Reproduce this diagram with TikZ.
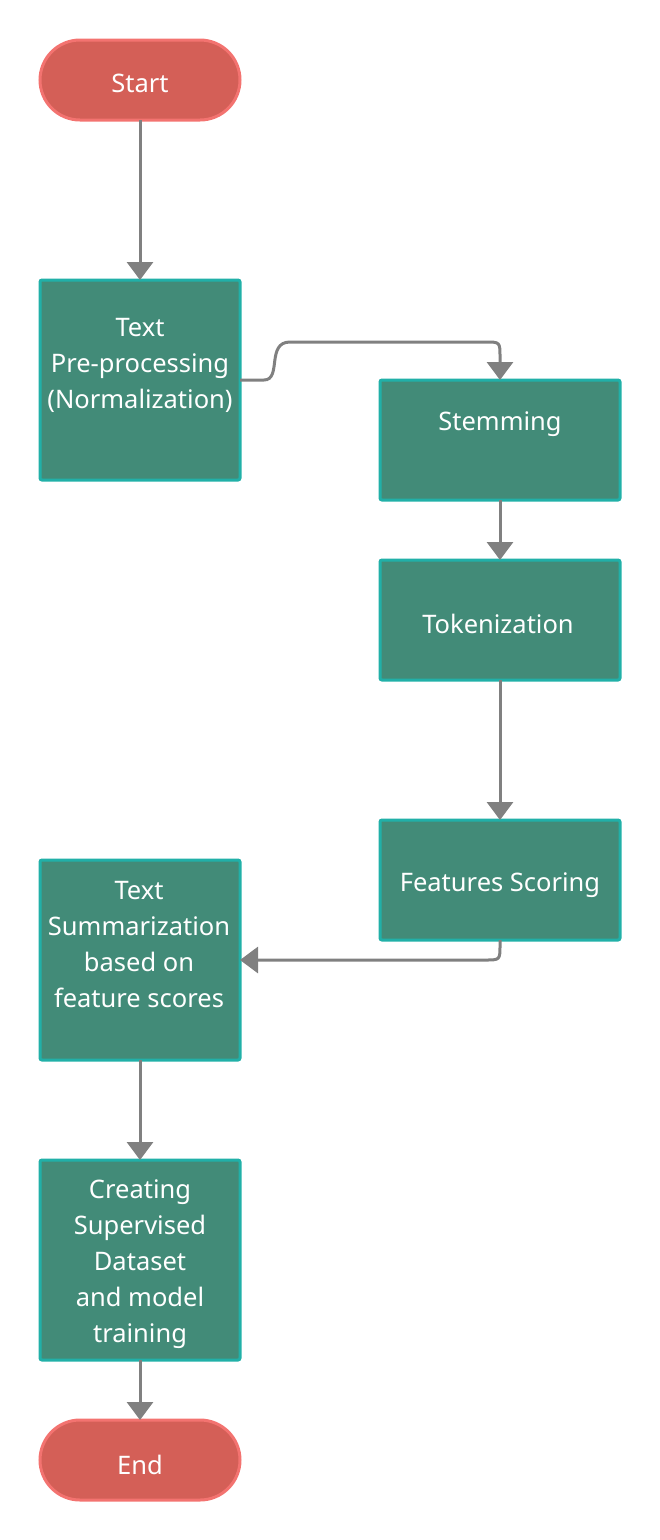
\documentclass[tikz,border=0pt]{standalone}
\usepackage{fontspec}
\setmainfont{Noto Sans}
\usetikzlibrary{arrows.meta}
\definecolor{termfill}{HTML}{D45F57}
\definecolor{termline}{HTML}{F37370}
\definecolor{procfill}{HTML}{428B78}
\definecolor{procline}{HTML}{21B0A8}
\definecolor{conn}{HTML}{808080}
\tikzset{
  term/.style={rectangle, rounded corners=40pt, fill=termfill, draw=termline, line width=3pt, minimum width=200pt, minimum height=80pt, inner sep=0pt, outer sep=0pt},
  proc/.style={rectangle, rounded corners=2pt, fill=procfill, draw=procline, line width=3pt, minimum width=200pt, inner sep=0pt, outer sep=0pt},
  lbl/.style={text=white, align=center, font=\fontsize{25.5}{36}\selectfont, inner sep=0pt},
  conn/.style={draw=conn, line width=3pt, -{Triangle[length=18pt,width=26pt]}}
}
\begin{document}
\begin{tikzpicture}[x=1pt,y=-1pt]
\useasboundingbox (0,0) rectangle (660,1540);
\node[term] (start) at (140,80) {};
\node[lbl] (tstart) at (140,83) {Start};
\node[proc, minimum height=200pt] (pre) at (140,380) {};
\node[lbl] (tpre) at (140,365) {Text\\Pre-processing\\(Normalization)};
\node[proc, minimum width=240pt, minimum height=120pt] (stem) at (500,440) {};
\node[lbl] (tstem) at (500,424) {Stemming};
\node[proc, minimum width=240pt, minimum height=120pt] (tok) at (500,620) {};
\node[lbl] (ttok) at (498,624) {Tokenization};
\node[proc, minimum width=240pt, minimum height=120pt] (feat) at (500,880) {};
\node[lbl] (tfeat) at (500,885) {Features Scoring};
\node[proc, minimum height=200pt] (summ) at (140,960) {};
\node[lbl] (tsumm) at (139,945) {Text\\Summarization\\based on\\feature scores};
\node[proc, minimum height=200pt] (crt) at (140,1260) {};
\node[lbl] (tcrt) at (140,1264) {Creating\\Supervised\\Dataset\\and model\\training};
\node[term] (end) at (140,1460) {};
\node[lbl] (tend) at (140,1465) {End};

\draw[conn] (start.south) -- (pre.north);
\draw[conn] (pre.east) -- (264,380) .. controls (282,380) and (266,342) .. (290,342) -- (485,342) .. controls (500,342) .. (500,357) -- (stem.north);
\draw[conn] (stem.south) -- (tok.north);
\draw[conn] (tok.south) -- (feat.north);
\draw[conn] (feat.south) -- (500,945) .. controls (500,960) .. (485,960) -- (summ.east);
\draw[conn] (summ.south) -- (crt.north);
\draw[conn] (crt.south) -- (end.north);
\end{tikzpicture}
\end{document}
